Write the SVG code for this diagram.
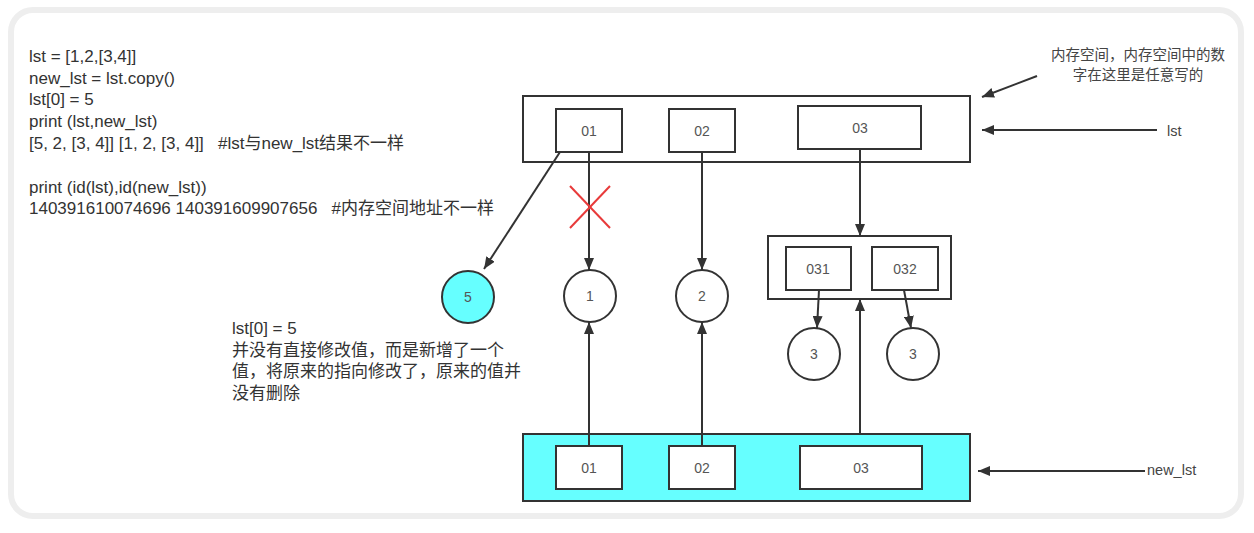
<svg xmlns="http://www.w3.org/2000/svg" width="1254" height="533" viewBox="0 0 1254 533">
<defs>
<style>
.card{fill:#ffffff;stroke:#eeeeee;stroke-width:6}
.box{fill:#ffffff;stroke:#333333;stroke-width:2}
.cyan{fill:#66ffff;stroke:#333333;stroke-width:2}
.lbl{font-family:"Liberation Sans","Noto Sans CJK SC",sans-serif;font-size:14px;fill:#555555;text-anchor:middle}
.txt{font-family:"Liberation Sans","Noto Sans CJK SC",sans-serif;font-size:17px;fill:#333333}
.note{font-family:"Liberation Sans","Noto Sans CJK SC",sans-serif;font-size:14.5px;fill:#444444}
.edge{stroke:#333333;stroke-width:2;fill:none}
.arr{marker-end:url(#ah)}
</style>
<marker id="ah" viewBox="0 0 12 10" refX="12" refY="5" markerWidth="6" markerHeight="5" orient="auto" markerUnits="strokeWidth">
<path d="M0,0 L12,5 L0,10 z" fill="#333333"/>
</marker>
</defs>
<rect width="1254" height="533" fill="#ffffff"/>
<rect class="card" x="11" y="10" width="1230" height="506" rx="22"/>

<g id="code">
<text class="txt" x="29" y="62">lst = [1,2,[3,4]]</text>
<text class="txt" x="29" y="84">new_lst = lst.copy()</text>
<text class="txt" x="29" y="105">lst[0] = 5</text>
<text class="txt" x="29" y="127">print (lst,new_lst)</text>
<text class="txt" x="29" y="149" xml:space="preserve">[5, 2, [3, 4]] [1, 2, [3, 4]]   #lst与new_lst结果不一样</text>
<text class="txt" x="29" y="193">print (id(lst),id(new_lst))</text>
<text class="txt" x="29" y="214" xml:space="preserve">140391610074696 140391609907656   #内存空间地址不一样</text>
</g>

<g id="explain">
<text class="txt" x="232" y="334">lst[0] = 5</text>
<text class="txt" x="232" y="356">并没有直接修改值，而是新增了一个</text>
<text class="txt" x="232" y="377">值，将原来的指向修改了，原来的值并</text>
<text class="txt" x="232" y="399">没有删除</text>
</g>

<g id="note">
<text class="note" x="1138" y="60" text-anchor="middle">内存空间，内存空间中的数</text>
<text class="note" x="1138" y="80" text-anchor="middle">字在这里是任意写的</text>
</g>

<g id="lst">
<rect class="box" x="523" y="96" width="447" height="66"/>
<rect class="box" x="556" y="109" width="66" height="43"/>
<text class="lbl" x="589" y="136">01</text>
<rect class="box" x="669" y="109" width="66" height="43"/>
<text class="lbl" x="702" y="136">02</text>
<rect class="box" x="798" y="106" width="123" height="43"/>
<text class="lbl" x="860" y="133">03</text>
</g>

<g id="inner">
<rect class="box" x="768" y="236" width="183" height="63"/>
<rect class="box" x="786" y="247" width="65" height="43"/>
<text class="lbl" x="818" y="274">031</text>
<rect class="box" x="872" y="247" width="66" height="43"/>
<text class="lbl" x="905" y="274">032</text>
</g>

<g id="new_lst">
<rect class="cyan" x="523" y="434" width="447" height="67"/>
<rect class="box" x="556" y="446" width="66" height="43"/>
<text class="lbl" x="589" y="473">01</text>
<rect class="box" x="669" y="446" width="66" height="43"/>
<text class="lbl" x="702" y="473">02</text>
<rect class="box" x="800" y="446" width="122" height="43"/>
<text class="lbl" x="861" y="473">03</text>
</g>

<g id="v5">
<circle class="cyan" cx="468" cy="297" r="26"/>
<text class="lbl" x="468" y="302">5</text>
</g>
<g id="v1">
<circle class="box" cx="590" cy="296" r="26"/>
<text class="lbl" x="590" y="301">1</text>
</g>
<g id="v2">
<circle class="box" cx="702" cy="296" r="26"/>
<text class="lbl" x="702" y="301">2</text>
</g>
<g id="v3a">
<circle class="box" cx="814" cy="354" r="26"/>
<text class="lbl" x="814" y="359">3</text>
</g>
<g id="v3b">
<circle class="box" cx="913" cy="354" r="26"/>
<text class="lbl" x="913" y="359">3</text>
</g>

<g id="connectors">
<line class="edge arr" x1="560" y1="152" x2="484" y2="269"/>
<line class="edge arr" x1="589" y1="152" x2="589" y2="270"/>
<line class="edge arr" x1="702" y1="152" x2="702" y2="270"/>
<line class="edge arr" x1="860" y1="149" x2="860" y2="236"/>
<line class="edge arr" x1="819" y1="290" x2="817" y2="328"/>
<line class="edge arr" x1="904" y1="290" x2="911" y2="328"/>
<line class="edge arr" x1="589" y1="446" x2="589" y2="322"/>
<line class="edge arr" x1="702" y1="446" x2="702" y2="322"/>
<line class="edge arr" x1="860" y1="434" x2="860" y2="299"/>
<line class="edge arr" x1="1037" y1="76" x2="982" y2="97"/>
<line class="edge arr" x1="1157" y1="130" x2="982" y2="130"/>
<line class="edge arr" x1="1145" y1="471" x2="978" y2="471"/>
<line x1="570" y1="186" x2="610" y2="228" stroke="#e83a3a" stroke-width="2"/>
<line x1="610" y1="186" x2="570" y2="228" stroke="#e83a3a" stroke-width="2"/>
</g>

<g id="labels">
<text class="note" x="1167" y="136" font-size="16px">lst</text>
<text class="note" x="1147" y="475" font-size="16px">new_lst</text>
</g>
</svg>
